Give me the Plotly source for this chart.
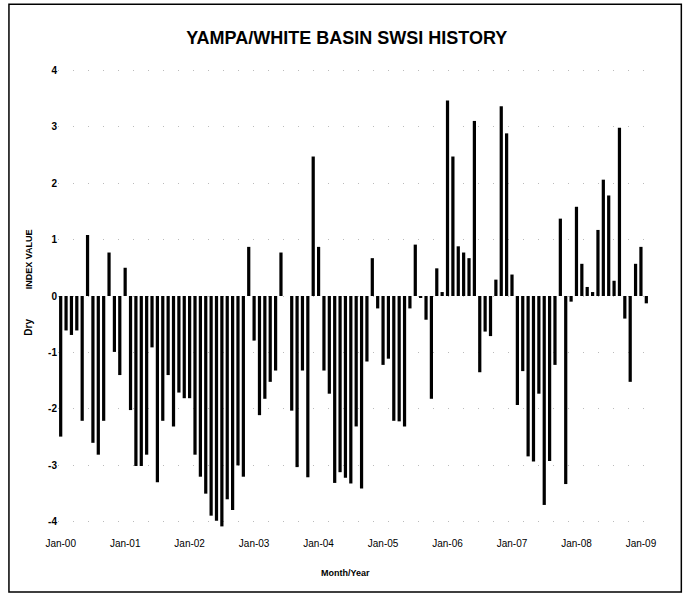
import pandas as pd
import plotly.graph_objects as go

# monthly SWSI index, Jan-2000 .. Feb-2009
months = pd.date_range("2000-01-01", periods=110, freq="MS").strftime("%b-%y").tolist()
swsi = [
    -2.49, -0.61, -0.69, -0.61, -2.21, 1.08, -2.60, -2.81, -2.21, 0.77, -0.99, -1.40,
    0.50, -2.02, -3.01, -3.01, -2.81, -0.91, -3.30, -2.21, -1.40, -2.31, -1.71, -1.81,
    -1.81, -2.81, -3.20, -3.50, -3.89, -3.98, -4.08, -3.60, -3.79, -3.00, -3.20, 0.87,
    -0.79, -2.11, -1.82, -1.52, -1.32, 0.77, 0.00, -2.03, -3.03, -1.32, -3.21, 2.47,
    0.87, -1.32, -1.73, -3.31, -3.12, -3.22, -3.32, -2.31, -3.41, -1.16, 0.67, -0.22,
    -1.22, -1.11, -2.21, -2.22, -2.31, -0.22, 0.91, -0.02, -0.42, -1.82, 0.49, 0.07,
    3.46, 2.47, 0.88, 0.77, 0.67, 3.10, -1.35, -0.63, -0.71, 0.29, 3.36, 2.88,
    0.38, -1.93, -1.33, -2.84, -2.93, -1.73, -3.70, -2.92, -1.22, 1.37, -3.33, -0.10,
    1.58, 0.57, 0.16, 0.07, 1.17, 2.06, 1.78, 0.27, 2.98, -0.40, -1.52, 0.57,
    0.87, -0.13,
]
year_ticks = [m for m in months if m.startswith("Jan")]
y_ticks = [4, 3, 2, 1, 0, -1, -2, -3, -4]
y_labels = ["4", "3", "2", "1", "0", "-1", "-2", "-3", "-4"]

FONT = "Liberation Sans, Arial, sans-serif"

fig = go.Figure(go.Bar(x=months, y=swsi, marker_color="black",
                       marker_line_width=0, width=0.6))

fig.update_layout(
    width=688, height=602,
    margin=dict(l=58, r=39, t=56, b=66),
    paper_bgcolor="white", plot_bgcolor="white",
    showlegend=False,
    font=dict(family=FONT, color="black", size=10),
    title=dict(text="<b>YAMPA/WHITE BASIN SWSI HISTORY</b>", x=0.504, xanchor="center",
               y=0.937, yanchor="middle",
               font=dict(family=FONT, size=18, color="black")),
    bargap=0.4,
)
fig.update_xaxes(type="category", tickmode="array", tickvals=year_ticks,
                 ticktext=year_ticks, showgrid=False, showline=False,
                 ticks="", tickangle=0, tickfont=dict(size=10))
fig.update_yaxes(range=[-4.25, 4.25], tickmode="array", tickvals=y_ticks,
                 ticktext=["<b>%s</b>" % t for t in y_labels], zeroline=False,
                 showline=False, ticks="",
                 showgrid=True, gridcolor="#bbbbbb", griddash="1px,14px",
                 tickfont=dict(size=10))

fig.add_annotation(text="<b>INDEX VALUE</b>", textangle=-90, xref="paper", yref="y",
                   x=-0.049, y=0.65, xanchor="center", yanchor="middle",
                   showarrow=False, font=dict(size=9))
fig.add_annotation(text="<b>Dry</b>", textangle=-90, xref="paper", yref="y",
                   x=-0.049, y=-0.56, xanchor="center", yanchor="middle",
                   showarrow=False, font=dict(size=10))
fig.add_annotation(text="<b>Month/Year</b>", xref="paper", yref="paper",
                   x=0.486, y=-0.077, xanchor="center", yanchor="middle",
                   showarrow=False, font=dict(size=9))

# outer frame
fig.add_shape(type="rect", xref="paper", yref="paper",
              x0=-0.083, x1=1.0547, y0=-0.1167, y1=1.108,
              line=dict(color="black", width=1.5))

fig.write_html("out.html", config={"displayModeBar": False},
               post_script="document.body.style.margin='0';")
